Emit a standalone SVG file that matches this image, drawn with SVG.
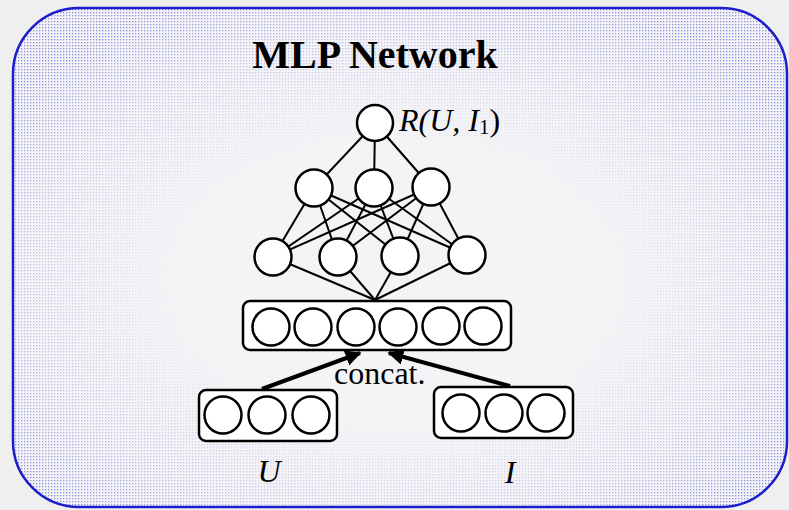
<svg xmlns="http://www.w3.org/2000/svg" width="789" height="510" viewBox="0 0 789 510">
<defs>
<pattern id="dots" width="3" height="3" patternUnits="userSpaceOnUse">
<rect x="0" y="0" width="1.3" height="1.3" fill="#6a6ad8"/>
</pattern>
<radialGradient id="fade" cx="0.5" cy="0.55" r="0.6">
<stop offset="0.45" stop-color="#fff" stop-opacity="0"/>
<stop offset="0.8" stop-color="#fff" stop-opacity="0.4"/>
<stop offset="1" stop-color="#fff" stop-opacity="0.75"/>
</radialGradient>
<mask id="edgeMask">
<rect x="0" y="0" width="789" height="510" fill="url(#fade)"/>
</mask>
<marker id="arr" viewBox="0 0 10 10" refX="9" refY="5" markerWidth="4" markerHeight="4" orient="auto" markerUnits="strokeWidth">
<path d="M0,0 L10,5 L0,10 z" fill="#000"/>
</marker>
<style>
.n{fill:#fff;stroke:#000;stroke-width:2.5}
.box{fill:#fff;stroke:#000;stroke-width:2.5}
.e{stroke:#000;stroke-width:2;fill:none}
.a{stroke:#000;stroke-width:4;fill:none}
.t{font-family:"Liberation Serif","Times New Roman",serif;fill:#000}
.it{font-style:italic}
</style>
</defs>
<rect x="0" y="0" width="789" height="510" fill="#efefef"/>
<g id="frame">
<rect x="13" y="8" width="774" height="499" rx="66" ry="66" fill="#f4f4f6"/>
<rect x="13" y="8" width="774" height="499" rx="66" ry="66" fill="url(#dots)" mask="url(#edgeMask)"/>
<rect x="13" y="8" width="774" height="499" rx="66" ry="66" fill="none" stroke="#1c1ccc" stroke-width="2.5"/>
</g>
<text id="title" class="t" x="375" y="68" font-size="40" font-weight="bold" text-anchor="middle">MLP Network</text>
<g id="connectors">
<line class="e" x1="375" y1="123" x2="314" y2="188"/>
<line class="e" x1="375" y1="123" x2="374" y2="188"/>
<line class="e" x1="375" y1="123" x2="431" y2="187"/>
<line class="e" x1="314" y1="188" x2="273" y2="257"/>
<line class="e" x1="314" y1="188" x2="338" y2="257"/>
<line class="e" x1="314" y1="188" x2="400" y2="256"/>
<line class="e" x1="314" y1="188" x2="467" y2="255"/>
<line class="e" x1="374" y1="188" x2="273" y2="257"/>
<line class="e" x1="374" y1="188" x2="338" y2="257"/>
<line class="e" x1="374" y1="188" x2="400" y2="256"/>
<line class="e" x1="374" y1="188" x2="467" y2="255"/>
<line class="e" x1="431" y1="187" x2="273" y2="257"/>
<line class="e" x1="431" y1="187" x2="338" y2="257"/>
<line class="e" x1="431" y1="187" x2="400" y2="256"/>
<line class="e" x1="431" y1="187" x2="467" y2="255"/>
<line class="e" x1="273" y1="257" x2="375" y2="300"/>
<line class="e" x1="338" y1="257" x2="375" y2="300"/>
<line class="e" x1="400" y1="256" x2="375" y2="300"/>
<line class="e" x1="467" y1="255" x2="375" y2="300"/>
<line class="a" x1="262" y1="389" x2="360" y2="353" marker-end="url(#arr)"/>
<line class="a" x1="510" y1="386" x2="389" y2="353" marker-end="url(#arr)"/>
</g>
<g id="out">
<circle class="n" cx="375" cy="123" r="18"/>
<text class="t it" x="399" y="131" font-size="32">R(U, I<tspan font-style="normal" font-size="21" dy="3">1</tspan><tspan font-style="normal" dy="-3">)</tspan></text>
</g>
<g id="hidden2">
<circle class="n" cx="314" cy="188" r="18.5"/>
<circle class="n" cx="374" cy="188" r="18.5"/>
<circle class="n" cx="431" cy="187" r="18.5"/>
</g>
<g id="hidden1">
<circle class="n" cx="273" cy="257" r="18.5"/>
<circle class="n" cx="338" cy="257" r="18.5"/>
<circle class="n" cx="400" cy="256" r="18.5"/>
<circle class="n" cx="467" cy="255" r="18.5"/>
</g>
<g id="concatLayer">
<rect class="box" x="243" y="301" width="268" height="49" rx="7"/>
<circle class="n" cx="271" cy="327" r="18.5"/>
<circle class="n" cx="313" cy="327" r="18.5"/>
<circle class="n" cx="356" cy="327" r="18.5"/>
<circle class="n" cx="398" cy="327" r="18.5"/>
<circle class="n" cx="441" cy="326" r="18.5"/>
<circle class="n" cx="483" cy="326" r="18.5"/>
</g>
<text id="concatLabel" class="t" x="334" y="384" font-size="32">concat.</text>
<g id="userVec">
<rect class="box" x="199" y="390" width="138" height="51" rx="7"/>
<circle class="n" cx="223" cy="415" r="18.5"/>
<circle class="n" cx="267" cy="415" r="18.5"/>
<circle class="n" cx="311" cy="415" r="18.5"/>
<text class="t it" x="269" y="482" font-size="32" text-anchor="middle">U</text>
</g>
<g id="itemVec">
<rect class="box" x="434" y="387" width="139" height="51" rx="7"/>
<circle class="n" cx="461" cy="413" r="18.5"/>
<circle class="n" cx="504" cy="413" r="18.5"/>
<circle class="n" cx="546" cy="413" r="18.5"/>
<text class="t it" x="510" y="483" font-size="32" text-anchor="middle">I</text>
</g>
</svg>
